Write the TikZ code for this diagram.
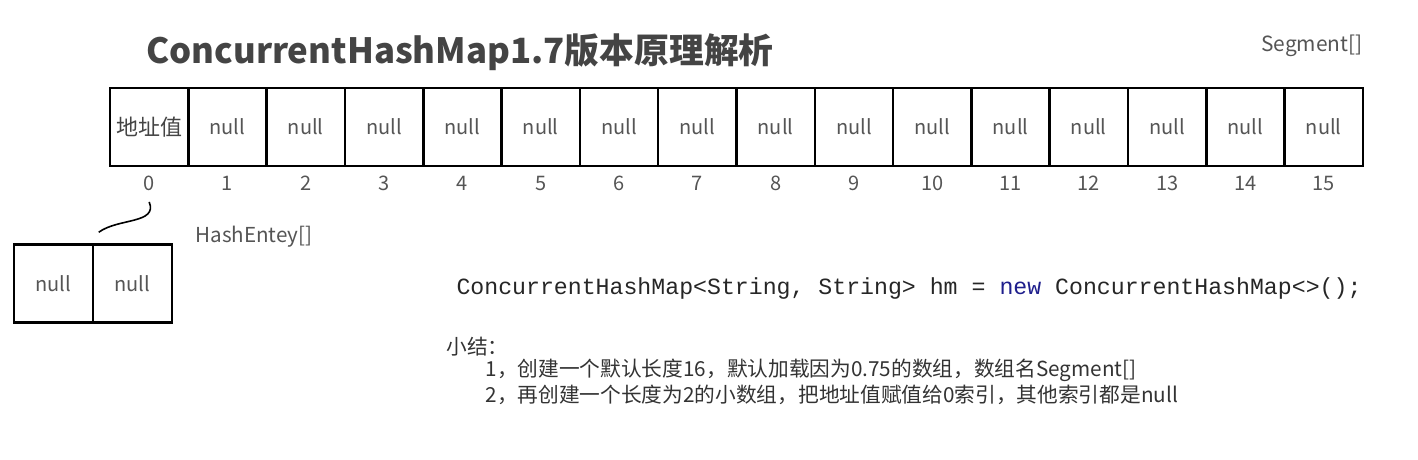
\documentclass[tikz,border=0pt]{standalone}
\usepackage{fontspec}
\setmainfont{Noto Sans CJK SC}
\newfontfamily\codefont{Liberation Mono}
\definecolor{txtgray}{HTML}{555555}
\definecolor{titlegray}{HTML}{444444}
\definecolor{kwblue}{HTML}{1E1E8C}
\tikzset{
  cell/.style={draw, line width=2.5pt, minimum width=78.3pt, minimum height=78pt,
    inner sep=0pt, text=txtgray, font=\fontsize{20}{20}\selectfont},
  idx/.style={text=txtgray, font=\fontsize{20}{20}\selectfont},
  note/.style={anchor=west, text=black!80, font=\fontsize{20.7}{24}\selectfont},
}

\begin{document}
\begin{tikzpicture}[x=1pt, y=-1pt]
\useasboundingbox (0,0) rectangle (1418,460);

\node[text=titlegray, font=\bfseries\fontsize{34.8}{34.8}\selectfont] (title) at (460,52) {ConcurrentHashMap1.7版本原理解析};
\node[text=txtgray, font=\fontsize{20.9}{20.9}\selectfont] (seglabel) at (1312,46) {Segment[]};

% Segment[] array
\node[cell, text=titlegray, font=\fontsize{22}{22}\selectfont] (seg0) at (149.2,127) {地址值};
\foreach \i in {1,...,15}
{
    \node[cell] (seg\i) at ({149.2+78.3*\i},127) {null};
}
\foreach \i in {0,...,15}
{
    \node[idx] (idx\i) at ({149.2+78.3*\i},183) {\i};
}

% HashEntey[] array
\node[cell, minimum width=79pt] (he0) at (53.5,283.5) {null};
\node[cell, minimum width=79pt] (he1) at (132.5,283.5) {null};
\node[text=txtgray, font=\fontsize{20.6}{20.6}\selectfont] (helabel) at (254,237) {HashEntey[]};

\draw[line width=1.6pt] ([yshift=-8pt]idx0.south) .. controls (158,224) and (118,218) .. ([shift={(7pt,11pt)}]he1.north west);

% code and summary
\node[anchor=west, text=black!85, font=\codefont\fontsize{23.2}{23.2}\selectfont] (code) at (453,288)
    {ConcurrentHashMap<String, String> hm = {\color{kwblue}new} ConcurrentHashMap<>();};
\node[note] (sum) at (443,347) {小结：};
\node[note] (line1) at (482,370) {1，创建一个默认长度16，默认加载因为0.75的数组，数组名Segment[]};
\node[note] (line2) at (482,395) {2，再创建一个长度为2的小数组，把地址值赋值给0索引，其他索引都是null};
\end{tikzpicture}
\end{document}
